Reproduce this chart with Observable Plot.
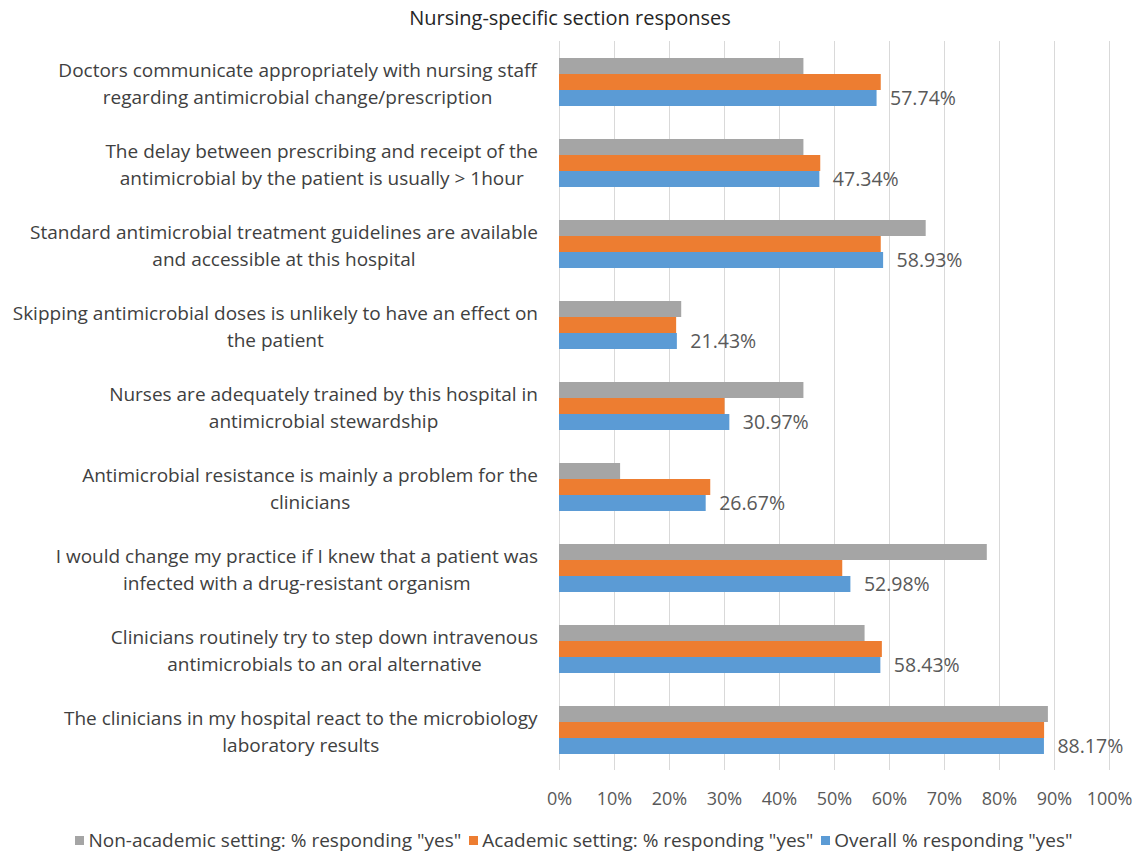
<!DOCTYPE html>
<html>
<head>
<meta charset="utf-8">
<script src="https://cdn.jsdelivr.net/npm/d3@7"></script>
<script src="https://cdn.jsdelivr.net/npm/@observablehq/plot@0.6"></script>
<style>
  body { margin: 0; background: #fff; font-family: "Open Sans", sans-serif; }
  #wrap { width: 1140px; height: 860px; position: relative; }
  #title { height: 40px; line-height: 36px; text-align: center; font-size: 20px; color: #262626; }
  #legend { display: flex; justify-content: center; align-items: center; gap: 8px; font-size: 19px; color: #404040; height: 40px; margin-left: 8px; }
  #legend .item { display: flex; align-items: center; }
  #legend .sw { width: 9px; height: 9px; margin-right: 4px; display: inline-block; }
  svg { display: block; }
</style>
</head>
<body>
<div id="wrap">
  <div id="title">Nursing-specific section responses</div>
  <div id="chart"></div>
  <div id="legend"></div>
</div>
<script>
const categories = [
  "Doctors communicate appropriately with nursing staff\nregarding antimicrobial change/prescription",
  "The delay between prescribing and receipt of the\nantimicrobial by the patient is usually > 1hour",
  "Standard antimicrobial treatment guidelines are available\nand accessible at this hospital",
  "Skipping antimicrobial doses is unlikely to have an effect on\nthe patient",
  "Nurses are adequately trained by this hospital in\nantimicrobial stewardship",
  "Antimicrobial resistance is mainly a problem for the\nclinicians",
  "I would change my practice if I knew that a patient was\ninfected with a drug-resistant organism",
  "Clinicians routinely try to step down intravenous\nantimicrobials to an oral alternative",
  "The clinicians in my hospital react to the microbiology\nlaboratory results"
];
const seriesNames = [
  'Non-academic setting: % responding "yes"',
  'Academic setting: % responding "yes"',
  'Overall % responding "yes"'
];
const seriesColors = ["#A5A5A5", "#ED7D31", "#5B9BD5"];
const nonAcademic = [44.44, 44.44, 66.67, 22.22, 44.44, 11.11, 77.78, 55.56, 88.89];
const academic    = [58.5, 47.5, 58.5, 21.3, 30.1, 27.5, 51.5, 58.7, 88.2];
const overall     = [57.74, 47.34, 58.93, 21.43, 30.97, 26.67, 52.98, 58.43, 88.17];
const xTicks = [0, 10, 20, 30, 40, 50, 60, 70, 80, 90, 100];

const rows = [];
const seriesValues = [nonAcademic, academic, overall];
categories.forEach((c, i) => {
  seriesNames.forEach((s, j) => rows.push({category: c, series: s, value: seriesValues[j][i]}));
});
const overallRows = rows.filter(d => d.series === seriesNames[2]);

const chart = Plot.plot({
  width: 1140,
  height: 780,
  marginTop: 0,
  marginBottom: 50,
  marginLeft: 559,
  marginRight: 31,
  style: {fontFamily: "'Open Sans', sans-serif", background: "#fff"},
  x: {domain: [0, 100], ticks: xTicks, axis: null},
  fy: {domain: categories, padding: 0, axis: null},
  y: {domain: seriesNames, paddingInner: 0, paddingOuter: 1, axis: null},
  color: {domain: seriesNames, range: seriesColors},
  marks: [
    Plot.gridX(xTicks, {stroke: "#D9D9D9", strokeOpacity: 1, strokeWidth: 1}),
    Plot.barX(rows, {fy: "category", y: "series", x: "value", fill: "series"}),
    Plot.text(overallRows, {
      fy: "category", y: "series", x: "value",
      text: d => d.value.toFixed(2) + "%",
      textAnchor: "start", dx: 13, fontSize: 19.5, fill: "#595959"
    }),
    Plot.axisFy({
      anchor: "left", tickSize: 0, tickPadding: 0, label: null,
      textAnchor: "middle", dx: -261, lineHeight: 1.42,
      fontSize: 19, fill: "#404040"
    }),
    Plot.axisX(xTicks, {
      tickSize: 0, tickPadding: 22, label: null, fontSize: 18,
      fill: "#595959", tickFormat: d => d + "%"
    })
  ]
});
document.getElementById("chart").appendChild(chart);

// Excel-style label block: lines centred within the block, block right-aligned next to the plot
const flatLabels = new Set(categories.map(c => c.replace("\n", "")));
const svgLeft = chart.getBoundingClientRect().left;
const labelRight = 559 - 21;
chart.querySelectorAll("text").forEach(t => {
  if (!flatLabels.has(t.textContent)) return;
  const r = t.getBoundingClientRect();
  const shift = labelRight - (r.right - svgLeft);
  const old = t.getAttribute("transform") || "";
  t.setAttribute("transform", `translate(${shift},0) ${old}`);
});

const legend = document.getElementById("legend");
seriesNames.forEach((s, j) => {
  const item = document.createElement("span");
  item.className = "item";
  const sw = document.createElement("span");
  sw.className = "sw";
  sw.style.background = seriesColors[j];
  item.appendChild(sw);
  item.appendChild(document.createTextNode(s));
  legend.appendChild(item);
});
</script>
</body>
</html>
